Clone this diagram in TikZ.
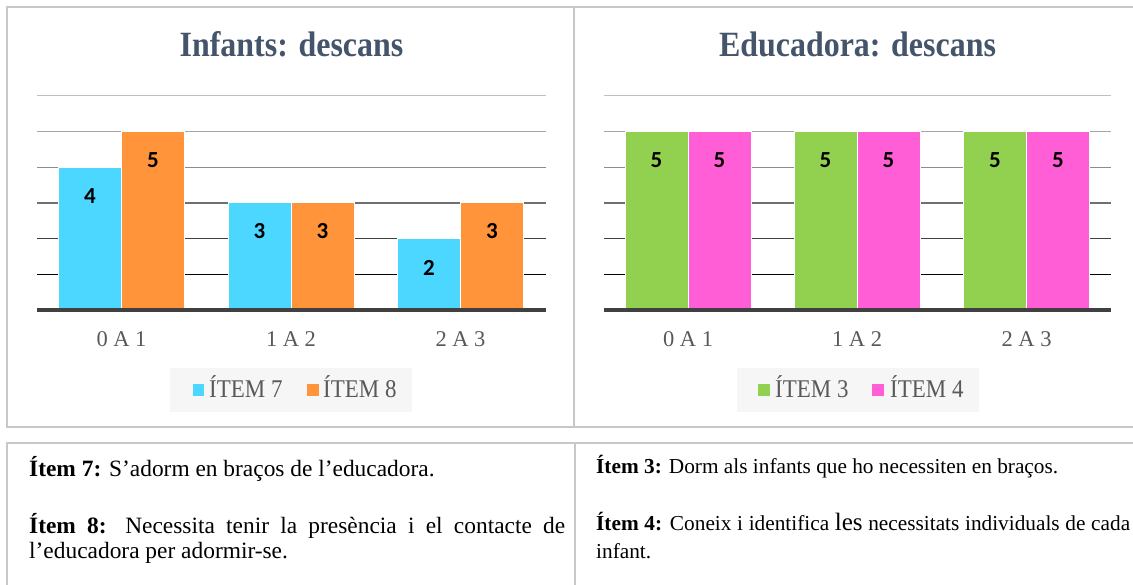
\documentclass[tikz,border=0pt]{standalone}
\usepackage{fontspec}
\setmainfont{Liberation Serif}
\newfontfamily\calfont{Carlito}
\usepackage{graphicx}
\usepackage{tikz}
\usetikzlibrary{calc,positioning}

\definecolor{framegray}{RGB}{200,200,200}
\definecolor{titleblue}{RGB}{68,84,106}
\definecolor{axisgray}{RGB}{64,64,64}
\definecolor{catgray}{RGB}{89,89,89}
\definecolor{itemseven}{RGB}{75,215,255}
\definecolor{itemeight}{RGB}{255,148,58}
\definecolor{itemthree}{RGB}{146,208,80}
\definecolor{itemfour}{RGB}{255,94,214}
\definecolor{legendbg}{RGB}{246,246,246}
\newcommand{\narrow}[1]{\scalebox{0.9}[1]{#1}}

\begin{document}
\begin{tikzpicture}[x=1pt,y=-1pt,
  frameline/.style={draw=framegray,line width=1.5pt},
  charttitle/.style={anchor=base,inner sep=0pt,text=titleblue,
    font=\fontsize{35.5}{38}\selectfont\bfseries},
  bar/.style={draw=white,line width=0.8pt},
  barlabel/.style={inner sep=0pt,font=\calfont\fontsize{23}{26}\selectfont\bfseries},
  catlabel/.style={anchor=base,inner sep=0pt,text=catgray,font=\fontsize{22.5}{26}\selectfont},
  legendkey/.style={minimum size=11.5pt,inner sep=0pt},
  legendtext/.style={anchor=base west,inner sep=0pt,text=catgray,
    font=\fontsize{25.5}{28}\selectfont},
  notebig/.style={anchor=base west,inner sep=0pt,font=\fontsize{23.4}{27}\selectfont},
  notesmall/.style={anchor=base west,inner sep=0pt,font=\fontsize{21.3}{25}\selectfont}]
  \useasboundingbox (0,0) rectangle (1133,585);
  \fill[white] (0,0) rectangle (1133,585);

  % chart frames
  \draw[frameline] (7,7) rectangle (574,427);
  \draw[frameline] (1133,7) -- (574,7) -- (574,427) -- (1133,427);

  % grid lines, lighter towards the top
  \foreach \v/\g in {1/0,2/64,3/112,4/140,5/166,6/191}{
    \definecolor{gridc}{RGB}{\g,\g,\g}
    \draw[gridc,line width=1.3pt] (37,310-35.7*\v) -- (546,310-35.7*\v);
    \draw[gridc,line width=1.3pt] (604,310-35.7*\v) -- (1111,310-35.7*\v);
  }

  % Infants: descans
  \node[charttitle] (titleinf) at (291.5,57) {\narrow{Infants: descans}};
  \path[bar,fill=itemseven] (58.5,310) rectangle (121.5,167.2);
  \path[bar,fill=itemeight] (121.5,310) rectangle (184.5,131.5);
  \path[bar,fill=itemseven] (228,310) rectangle (291,202.9);
  \path[bar,fill=itemeight] (291,310) rectangle (354,202.9);
  \path[bar,fill=itemseven] (397.5,310) rectangle (460.5,238.6);
  \path[bar,fill=itemeight] (460.5,310) rectangle (523.5,202.9);
  \draw[axisgray,line width=3.3pt] (37,310) -- (546,310);
  \node[barlabel] (vala) at (90,196.2) {4};
  \node[barlabel] (valb) at (153,160.5) {5};
  \node[barlabel] (valc) at (259.5,231.5) {3};
  \node[barlabel] (vald) at (322.5,231.5) {3};
  \node[barlabel] (vale) at (429,267.5) {2};
  \node[barlabel] (valf) at (492,231.5) {3};
  \node[catlabel] (catinfa) at (121.5,347) {0 A 1};
  \node[catlabel] (catinfb) at (291,347) {1 A 2};
  \node[catlabel] (catinfc) at (460.5,347) {2 A 3};
  \fill[legendbg] (170,368) rectangle (412,412);
  \node[legendkey,fill=itemseven] (keyseven) at (198.5,390) {};
  \node[legendtext] (labseven) at (209,397) {\narrow{ÍTEM 7}};
  \node[legendkey,fill=itemeight] (keyeight) at (313,390) {};
  \node[legendtext] (labeight) at (323,397) {\narrow{ÍTEM 8}};

  % Educadora: descans
  \node[charttitle] (titleedu) at (857.5,57) {\narrow{Educadora: descans}};
  \path[bar,fill=itemthree] (625,310) rectangle (688,131.5);
  \path[bar,fill=itemfour] (688,310) rectangle (751,131.5);
  \path[bar,fill=itemthree] (794,310) rectangle (857,131.5);
  \path[bar,fill=itemfour] (857,310) rectangle (920,131.5);
  \path[bar,fill=itemthree] (963.5,310) rectangle (1026.5,131.5);
  \path[bar,fill=itemfour] (1026.5,310) rectangle (1089.5,131.5);
  \draw[axisgray,line width=3.3pt] (604,310) -- (1111,310);
  \node[barlabel] (valg) at (656.5,160.5) {5};
  \node[barlabel] (valh) at (719.5,160.5) {5};
  \node[barlabel] (vali) at (825.5,160.5) {5};
  \node[barlabel] (valj) at (888.5,160.5) {5};
  \node[barlabel] (valk) at (995,160.5) {5};
  \node[barlabel] (vall) at (1058,160.5) {5};
  \node[catlabel] (catedua) at (688,347) {0 A 1};
  \node[catlabel] (catedub) at (857,347) {1 A 2};
  \node[catlabel] (cateduc) at (1026.5,347) {2 A 3};
  \fill[legendbg] (737,368) rectangle (979,412);
  \node[legendkey,fill=itemthree] (keythree) at (764,390) {};
  \node[legendtext] (labthree) at (775,397) {\narrow{ÍTEM 3}};
  \node[legendkey,fill=itemfour] (keyfour) at (878,390) {};
  \node[legendtext] (labfour) at (890,397) {\narrow{ÍTEM 4}};

  % item table
  \draw[frameline] (7,585) -- (7,443) -- (1133,443);
  \draw[frameline] (575,443) -- (575,585);
  \node[notebig] (noteseven) at (29,476)
    {\textbf{Ítem 7:} S’adorm en braços de l’educadora.};
  \node[notebig] (noteeight) at (29,533)
    {\makebox[536pt][s]{\textbf{Ítem 8:} Necessita tenir la presència i el contacte de}};
  \node[notebig] (noteeightb) at (29,558) {l’educadora per adormir-se.};
  \node[notesmall] (notethree) at (596,473)
    {\textbf{Ítem 3:} Dorm als infants que ho necessiten en braços.};
  \node[notesmall] (notefour) at (596,530)
    {\makebox[534pt][s]{\textbf{Ítem 4:} Coneix i identifica {\fontsize{25}{25}\selectfont les} necessitats individuals de cada}};
  \node[notesmall] (notefourb) at (596,558) {infant.};
\end{tikzpicture}
\end{document}
